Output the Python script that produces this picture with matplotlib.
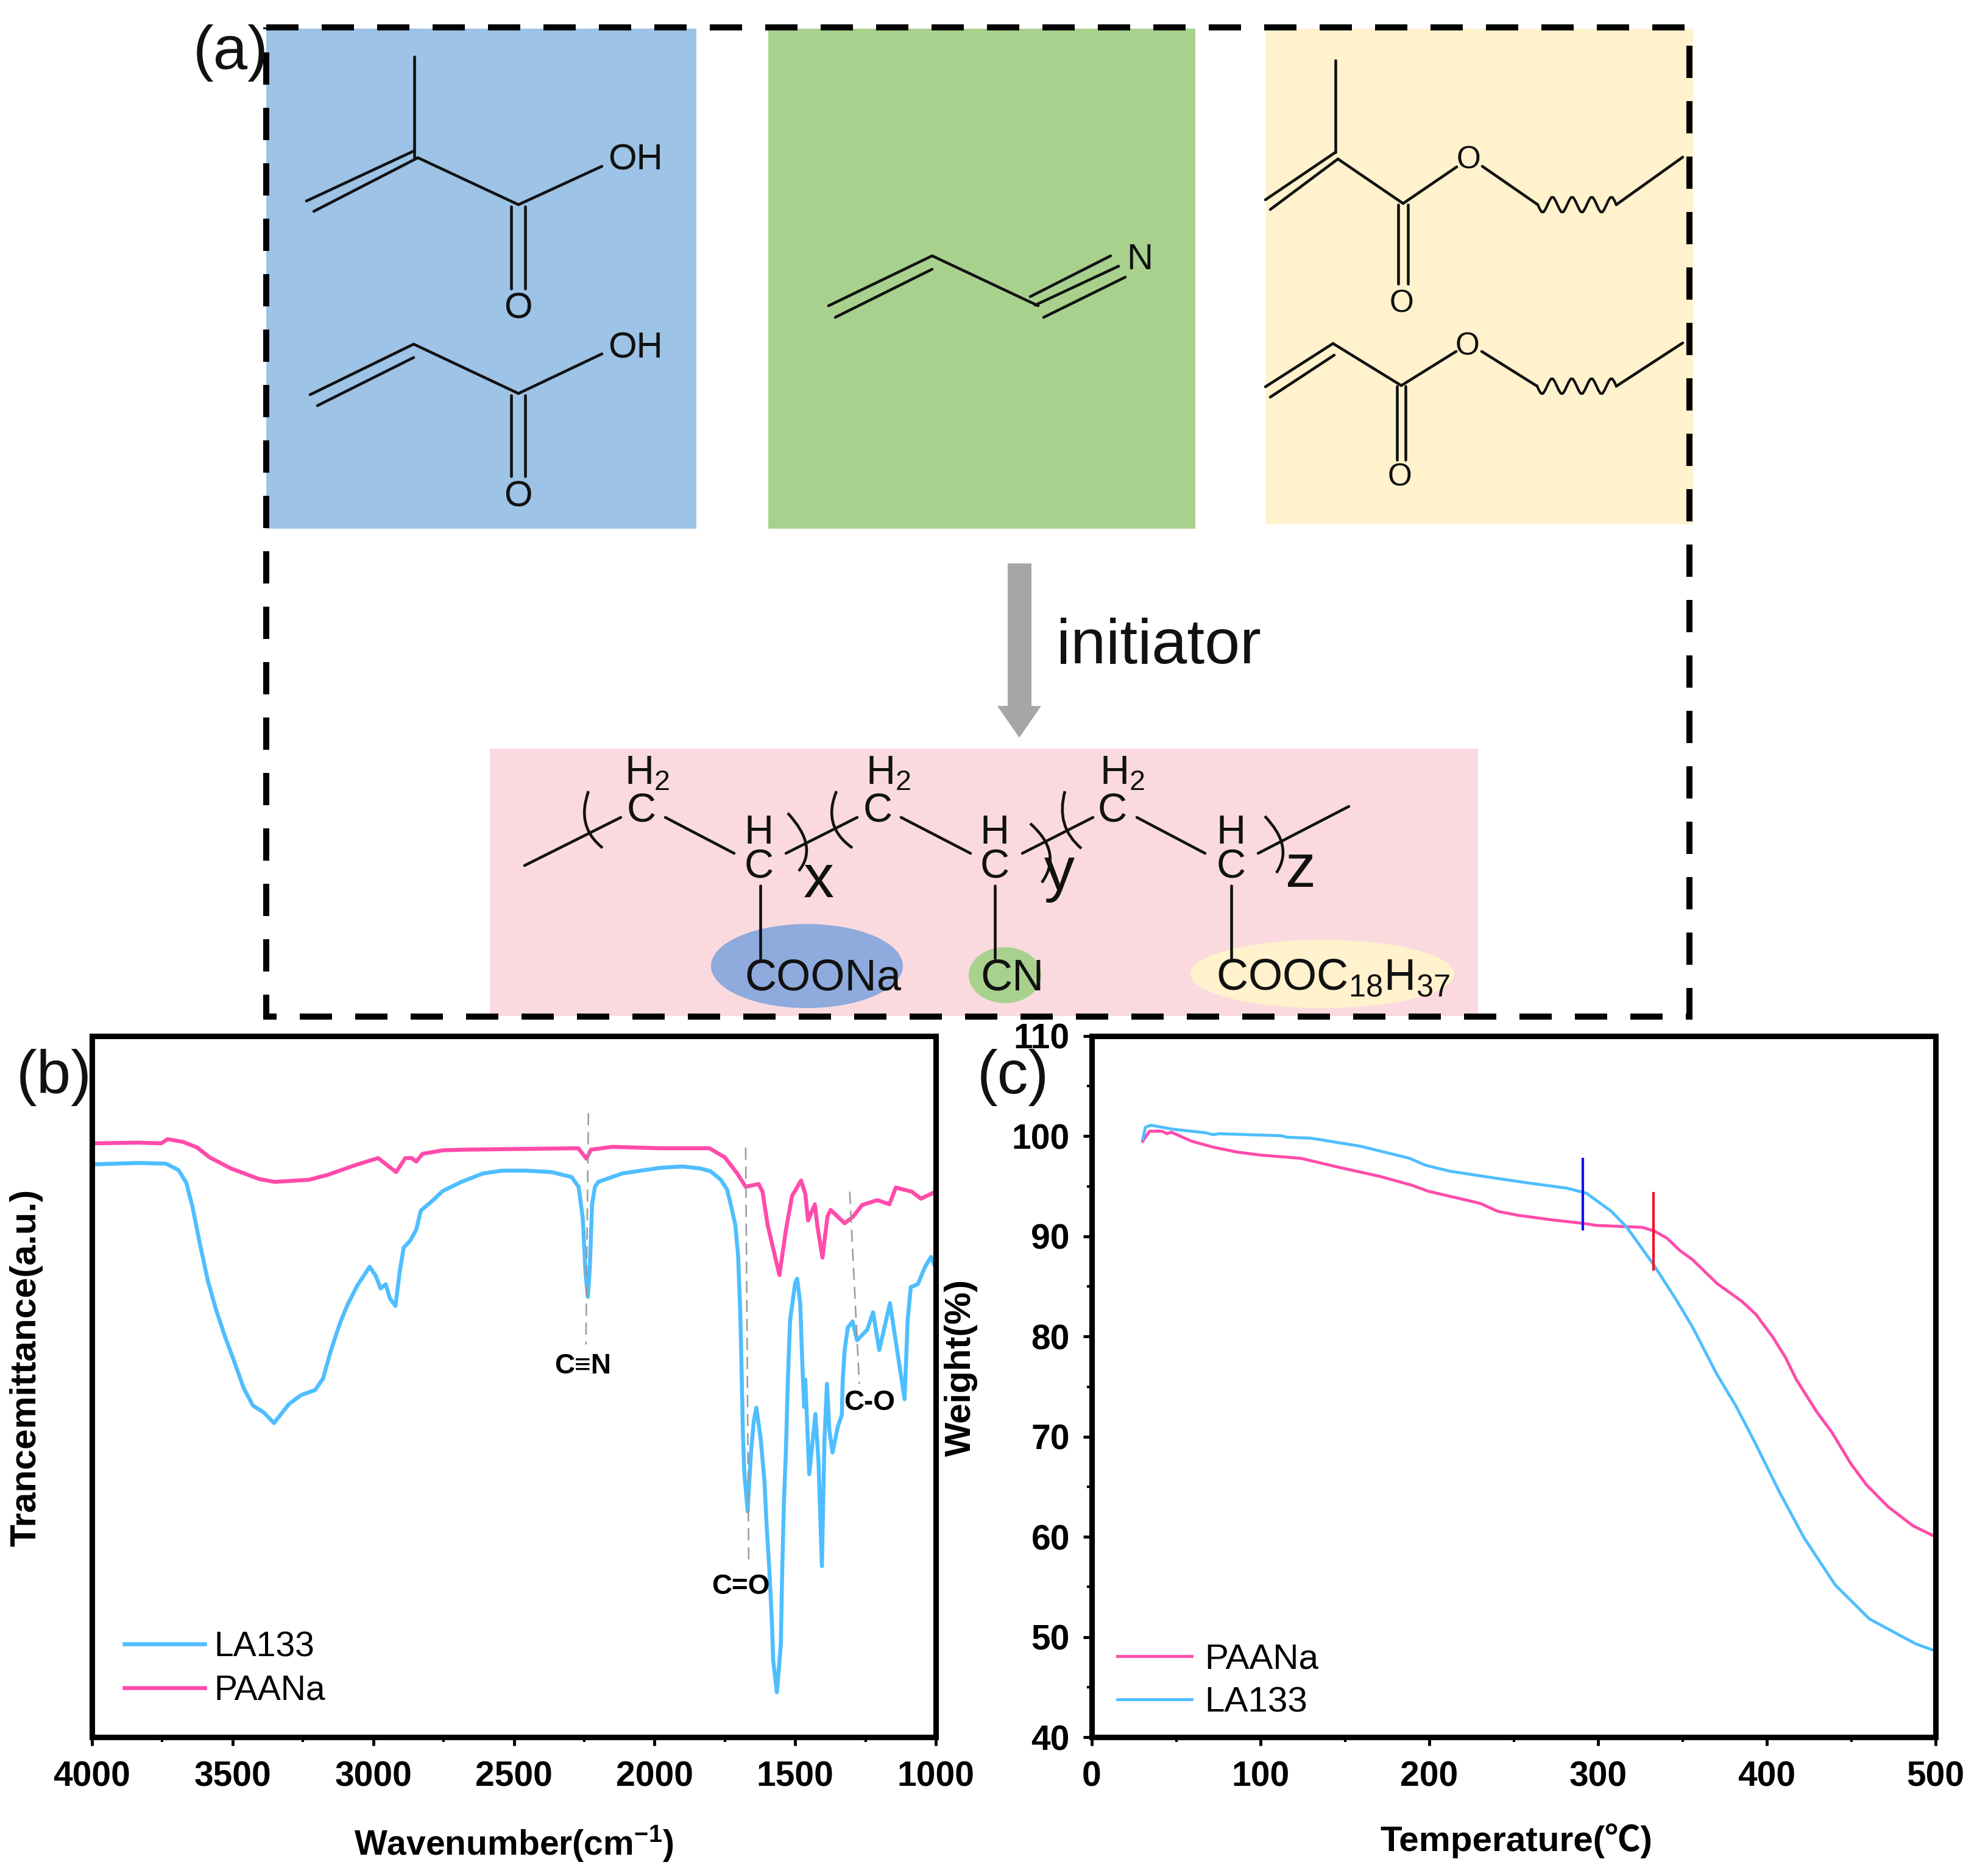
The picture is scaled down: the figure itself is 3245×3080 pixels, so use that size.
import numpy as np
import matplotlib
matplotlib.use("Agg")
import matplotlib.pyplot as plt
from matplotlib.patches import Rectangle, Ellipse, Polygon, PathPatch
from matplotlib.path import Path
from matplotlib.ticker import MultipleLocator

plt.rcParams['font.family'] = ['Liberation Sans', 'Noto Sans CJK SC', 'DejaVu Sans']
plt.rcParams['mathtext.fontset'] = 'custom'
plt.rcParams['mathtext.rm'] = 'Liberation Sans'
plt.rcParams['mathtext.bf'] = 'Liberation Sans:bold'
plt.rcParams['mathtext.it'] = 'Liberation Sans:italic'
plt.rcParams['mathtext.default'] = 'regular'

BLUE = '#4FBEFF'
PINK = '#FF4BAA'
W, H = 3245, 3080

# panel b, FTIR spectra
wn_la = [4000, 3836, 3737, 3693, 3665, 3643, 3615, 3588, 3560, 3527, 3499, 3461, 3428, 3389, 3353,
         3300, 3256, 3207, 3179, 3151, 3118, 3090, 3057, 3013, 2991, 2974, 2956, 2941, 2921, 2906,
         2892, 2869, 2847, 2831, 2787, 2753, 2687, 2610, 2543, 2455, 2367, 2295, 2270, 2255, 2245,
         2237, 2230, 2222, 2212, 2200, 2115, 1982, 1900, 1836, 1800, 1764, 1742, 1728, 1713, 1703,
         1699, 1695, 1692, 1686, 1681, 1669, 1657, 1647, 1638, 1623, 1609, 1602, 1591, 1583, 1578,
         1565, 1551, 1547, 1540, 1533, 1526, 1518, 1500, 1493, 1482, 1475, 1468, 1464, 1450, 1428,
         1417, 1405, 1396, 1387, 1378, 1367, 1349, 1334, 1331, 1324, 1313, 1296, 1280, 1244, 1223,
         1201, 1163, 1111, 1100, 1089, 1064, 1038, 1017, 1006, 1000]
tr_la = [81.7, 81.9, 81.8, 80.9, 79.1, 75.7, 70.1, 65.1, 61.1, 57.1, 54.1, 49.8, 47.3, 46.3, 44.8,
         47.5, 48.8, 49.5, 51.1, 55.1, 59.1, 61.8, 64.4, 67.1, 65.8, 64.0, 64.6, 62.6, 61.5, 66.4,
         69.8, 70.8, 72.4, 75.1, 76.6, 77.9, 79.2, 80.4, 80.8, 80.8, 80.6, 79.9, 78.5, 74, 66,
         62.8, 67, 76, 78.5, 79.2, 80.4, 81.2, 81.4, 81.1, 80.7, 79.5, 78.1, 75.8, 73.1, 68.8,
         64.7, 60.1, 55.2, 43.6, 37.8, 32.2, 40.7, 45.1, 47.0, 42.7, 36.4, 30.6, 23.3, 16.7, 10.9,
         6.4, 13.2, 21.9, 33.5, 40.7, 50.9, 59.5, 64.8, 65.4, 61.9, 53.7, 47.1, 51.0, 37.5, 46.1,
         39.3, 24.4, 42.2, 50.4, 43.6, 40.6, 44.2, 46.0, 50.9, 55.2, 58.4, 59.3, 56.6, 58.1, 60.6,
         55.2, 61.9, 48.2, 59.5, 64.2, 64.6, 67.1, 68.5, 67.4, 67.0]
wn_pa = [4000, 3836, 3754, 3731, 3676, 3626, 3582, 3505, 3405, 3350, 3229, 3162, 3063, 2983, 2919,
         2886, 2864, 2847, 2825, 2753, 2676, 2271, 2242, 2226, 2149, 1982, 1805, 1750, 1706, 1676,
         1630, 1616, 1598, 1556, 1533, 1511, 1479, 1464, 1454, 1430, 1421, 1403, 1385, 1374, 1324,
         1295, 1262, 1208, 1165, 1142, 1085, 1053, 1006, 1000]
tr_pa = [84.7, 84.8, 84.7, 85.3, 84.9, 84.1, 82.7, 81.1, 79.6, 79.2, 79.5, 80.2, 81.6, 82.6, 80.6,
         82.6, 82.6, 82.1, 83.2, 83.7, 83.8, 84.0, 82.5, 83.8, 84.2, 84.0, 84.0, 82.7, 80.4, 78.5,
         78.9, 77.8, 73.1, 65.9, 72.3, 77.2, 79.4, 77.5, 73.7, 76.0, 72.9, 68.4, 74.3, 75.2, 73.3,
         74.2, 75.9, 76.6, 76.0, 78.4, 77.8, 76.8, 77.7, 77.9]

# peak guides: wn start, wn end, y start, y end
guide_wn = [(2235, 2244), (1676, 1665), (1306, 1272)]
guide_tr = [(89.0, 56.0), (84.1, 24.8), (77.8, 50.4)]
peak_labels = ['C≡N', 'C=O', 'C-O']
peak_wn = [2255, 1694, 1235]
peak_tr = [52.9, 21.5, 47.7]

# panel c, TGA curves
t_pa = [30.2, 34.2, 41.5, 44.7, 47.1, 59.2, 72.1, 86.6, 101.1, 123.7, 146.3, 170.4, 189.8, 199.5,
        230.1, 240.6, 252.7, 274.8, 291.3, 298.7, 326.3, 333.7, 341, 348.4, 355.8, 370.5, 385.3,
        393.6, 403.7, 411.1, 417.5, 429.5, 438.7, 449.8, 459, 471.9, 486.6, 500]
w_pa = [99.5, 100.5, 100.5, 100.25, 100.4, 99.5, 98.9, 98.4, 98.1, 97.8, 96.9, 96.0, 95.1, 94.5,
        93.3, 92.5, 92.1, 91.6, 91.3, 91.1, 90.9, 90.5, 89.8, 88.6, 87.7, 85.3, 83.5,
        82.2, 79.9, 77.9, 75.7, 72.5, 70.4, 67.3, 65.2, 63.0, 61.1, 60.0]
t_la = [30.2, 31.8, 35, 47.9, 67.3, 72.1, 75.3, 112.4, 115.6, 130.1, 159.2, 188.2, 197.8, 212.4,
        239.8, 260, 282.1, 293.2, 307.9, 317.1, 332.8, 346.6, 355.8, 370.5, 381.6, 392.7, 407.4,
        422.1, 440.5, 460.8, 488.4, 500]
w_la = [99.7, 100.9, 101.1, 100.7, 100.35, 100.15, 100.25, 100.05, 99.9, 99.8, 99.0, 97.8, 97.1, 96.5,
        95.8, 95.3, 94.8, 94.3, 92.5, 90.9, 87.2, 83.6, 81.0, 76.2, 73.1, 69.5, 64.5,
        59.9, 55.2, 51.8, 49.3, 48.6]

# panel a, everything below is in image pixels
boxes = [(437, 47, 1143, 868, '#9DC3E6'), (1261, 47, 1962, 868, '#A9D18E'),
         (2078, 47, 2779, 861, '#FFF2CC'), (804, 1229, 2426, 1668, '#FADADF')]
ellipses = [(1167, 1517, 1482, 1655, '#8FAADC'), (1590, 1555, 1709, 1647, '#A9D18E'),
            (1954, 1543, 2387, 1655, '#FFF2CC')]
bonds = [
    # methacrylic acid
    (680, 93, 680, 258), (679, 248, 503, 330), (686, 259, 515, 347), (686, 259, 851, 336),
    (851, 336, 988, 273), (839, 339, 839, 474), (862, 339, 862, 474),
    # acrylic acid
    (679, 565, 509, 648), (679, 587, 521, 666), (679, 565, 851, 646), (851, 646, 988, 581),
    (839, 649, 839, 782), (862, 649, 862, 782),
    # acrylonitrile
    (1530, 420, 1360, 502), (1530, 442, 1371, 521), (1530, 420, 1704, 502),
    (1691, 487, 1823, 420), (1699, 501, 1836, 437), (1713, 521, 1847, 455),
    # methacrylate ester
    (2192, 99, 2192, 250), (2192, 250, 2077, 328), (2196, 261, 2085, 344), (2196, 261, 2303, 334),
    (2303, 334, 2391, 274), (2433, 273, 2524, 336), (2653, 336, 2762, 258),
    (2295, 336, 2295, 466), (2311, 336, 2311, 466),
    # acrylate ester
    (2188, 564, 2077, 635), (2190, 583, 2085, 652), (2188, 564, 2300, 633), (2300, 633, 2390, 577),
    (2432, 577, 2523, 634), (2653, 634, 2762, 563), (2293, 634, 2293, 755), (2307, 634, 2307, 755),
    # polymer chain
    (861, 1421, 1019, 1342), (1092, 1342, 1205, 1401), (1290, 1401, 1407, 1342),
    (1479, 1342, 1593, 1401), (1678, 1401, 1794, 1342), (1866, 1342, 1978, 1401),
    (2065, 1401, 2214, 1324), (1248, 1454, 1248, 1573), (1633, 1454, 1633, 1573),
    (2021, 1454, 2021, 1573),
]
waves = [(2524, 2653, 336), (2523, 2653, 634)]
brackets = [
    ((966, 1299), (945, 1357), (989, 1392)), ((1373, 1299), (1349, 1357), (1399, 1392)),
    ((1748, 1299), (1732, 1357), (1775, 1393)), ((1293, 1335), (1344, 1390), (1311, 1430)),
    ((1691, 1352), (1745, 1400), (1710, 1449)), ((2076, 1340), (2124, 1390), (2095, 1433)),
]
# x, y, text, size, horizontal alignment
atoms = [
    (1043, 263, 'OH', 43, 'center'), (850, 507, 'O', 43, 'center'),
    (1043, 572, 'OH', 43, 'center'), (850, 816, 'O', 43, 'center'),
    (1871, 426, 'N', 43, 'center'),
    (2411, 263, 'O', 37, 'center'), (2301, 499, 'O', 37, 'center'),
    (2409, 569, 'O', 37, 'center'), (2298, 784, 'O', 37, 'center'),
    (1053, 1332, 'C', 48, 'center'), (1441, 1332, 'C', 48, 'center'), (1826, 1332, 'C', 48, 'center'),
    (1062, 1270, 'H$_{2}$', 48, 'center'), (1458, 1270, 'H$_{2}$', 48, 'center'),
    (1842, 1270, 'H$_{2}$', 48, 'center'),
    (1246, 1368, 'H', 48, 'center'), (1633, 1368, 'H', 48, 'center'), (2021, 1368, 'H', 48, 'center'),
    (1246, 1425, 'C', 48, 'center'), (1633, 1425, 'C', 48, 'center'), (2021, 1425, 'C', 48, 'center'),
    (1344, 1447, 'x', 72, 'center'), (1739, 1435, 'y', 72, 'center'), (2135, 1430, 'z', 72, 'center'),
    (1222, 1607, 'COONa', 52, 'left'), (1609, 1607, 'CN', 52, 'left'),
    (1996, 1607, 'COOC$_{18}$H$_{37}$', 52, 'left'),
    (1734, 1062, 'initiator', 75, 'left'),
    (317, 87, '(a)', 73, 'left'), (27, 1769, '(b)', 73, 'left'), (1604, 1769, '(c)', 73, 'left'),
]

fig = plt.figure(figsize=(W / 100, H / 100), dpi=100)


def axes_px(x0, y0, x1, y1):
    return fig.add_axes([x0 / W, 1 - y1 / H, (x1 - x0) / W, (y1 - y0) / H])


def style(ax):
    for s in ax.spines.values():
        s.set_linewidth(6.5)
    ax.tick_params(which='major', length=10, width=3.5, labelsize=41)
    ax.tick_params(which='minor', length=6, width=3)
    ax.tick_params(axis='x', which='major', pad=18)
    ax.tick_params(axis='y', which='major', pad=16)
    for lab in ax.get_xticklabels() + ax.get_yticklabels():
        lab.set_fontweight('bold')


# (b)
ax1 = axes_px(151, 1701, 1536, 2852)
ax1.plot(wn_la, tr_la, color=BLUE, lw=4.7, label='LA133', solid_joinstyle='round')
ax1.plot(wn_pa, tr_pa, color=PINK, lw=4.7, label='PAANa', solid_joinstyle='round')
for xs, ys in zip(guide_wn, guide_tr):
    ax1.plot(xs, ys, color='#999999', lw=1.8, ls=(0, (8, 4.5)))
for lab, x, y in zip(peak_labels, peak_wn, peak_tr):
    ax1.text(x, y, lab, fontsize=33, fontweight='bold', ha='center', va='center')
ax1.set_xlim(4000, 1000)
ax1.set_ylim(0, 100)
ax1.set_yticks([])
ax1.xaxis.set_major_locator(MultipleLocator(500))
ax1.xaxis.set_minor_locator(MultipleLocator(250))
style(ax1)
ax1.set_xlabel(r'Wavenumber(cm$\mathbf{^{-1}}$)', fontsize=41, fontweight='bold', va='center')
ax1.xaxis.set_label_coords(0.500, -0.152)
ax1.set_ylabel('Trancemittance(a.u.)', fontsize=43.5, fontweight='bold', va='center')
ax1.yaxis.set_label_coords(-0.078, 0.527)
ax1.legend(loc='lower left', bbox_to_anchor=(0.038, 0.043), frameon=False, fontsize=41, borderpad=0,
           borderaxespad=0, handlelength=2.33, handletextpad=0.26, labelspacing=0.3)

# (c)
ax2 = axes_px(1792, 1701, 3177, 2852)
ax2.plot(t_pa, w_pa, color=PINK, lw=3.5, label='PAANa', solid_joinstyle='round')
ax2.plot(t_la, w_la, color=BLUE, lw=3.5, label='LA133', solid_joinstyle='round')
ax2.plot([291, 291], [90.7, 97.7], color='#1010F0', lw=3)
ax2.plot([332.8, 332.8], [86.7, 94.3], color='#F51020', lw=3)
ax2.set_xlim(0, 500)
ax2.set_ylim(40, 110)
ax2.xaxis.set_major_locator(MultipleLocator(100))
ax2.xaxis.set_minor_locator(MultipleLocator(50))
ax2.yaxis.set_major_locator(MultipleLocator(10))
ax2.yaxis.set_minor_locator(MultipleLocator(5))
style(ax2)
ax2.set_xlabel('Temperature(℃)', fontsize=42, fontweight='bold', va='center')
ax2.xaxis.set_label_coords(0.503, -0.148)
ax2.set_ylabel('Weight(%)', fontsize=43, fontweight='bold', va='center')
ax2.yaxis.set_label_coords(-0.155, 0.527)
ax2.legend(loc='lower left', bbox_to_anchor=(0.03, 0.026), frameon=False, fontsize=42, borderpad=0,
           borderaxespad=0, handlelength=2.1, handletextpad=0.36, labelspacing=0.28)

# (a) schematic on a transparent axes in pixel units
ov = fig.add_axes([0, 0, 1, 1], zorder=5)
ov.set_xlim(0, W)
ov.set_ylim(H, 0)
ov.axis('off')

for x0, y0, x1, y1, c in boxes:
    ov.add_patch(Rectangle((x0, y0), x1 - x0, y1 - y0, fc=c, ec='none', zorder=1))
for x0, y0, x1, y1, c in ellipses:
    ov.add_patch(Ellipse(((x0 + x1) / 2, (y0 + y1) / 2), x1 - x0, y1 - y0, fc=c, ec='none', zorder=2))

ov.add_patch(Rectangle((437, 45), 2773 - 437, 1669 - 45, fill=False, ec='black', lw=7.2,
                       ls=(0, (5.3, 3.8)), capstyle='butt', zorder=4))

for x0, y0, x1, y1 in bonds:
    ov.plot([x0, x1], [y0, y1], color='#111111', lw=3.3, solid_capstyle='round', zorder=3)

# four small wiggles for the long alkyl chain
wiggle = [0, 7, 12, 12, 7, 0, -7, -12, -12, -7]
for x0, x1, y in waves:
    off = wiggle * 4 + [0]
    xs = np.linspace(x0, x1, len(off))
    ov.plot(xs, [y + v for v in off], color='#111111', lw=3, zorder=3)

for p0, p1, p2 in brackets:
    ov.add_patch(PathPatch(Path([p0, p1, p2], [Path.MOVETO, Path.CURVE3, Path.CURVE3]),
                           fc='none', ec='#111111', lw=3.3, zorder=3))

for x, y, s, size, ha in atoms:
    ov.text(x, y, s, fontsize=size, ha=ha, va='center', color='#111111', zorder=6)

# grey arrow
ov.add_patch(Polygon([(1654, 925), (1693, 925), (1693, 1159), (1709, 1159), (1673, 1211),
                      (1637, 1159), (1654, 1159)], fc='#A6A6A6', ec='none', zorder=3))

fig.savefig('out.png', dpi=100, facecolor='white')
